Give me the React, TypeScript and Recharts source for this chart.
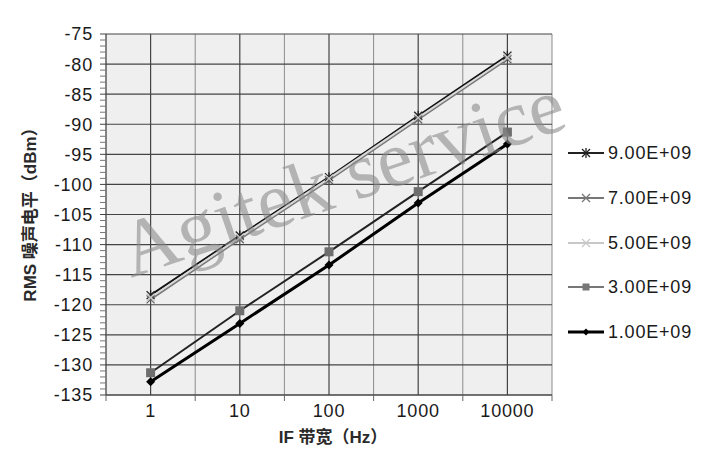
import React from "react";
import { CartesianGrid, Line, LineChart, XAxis, YAxis } from "recharts";

// IF bandwidth (Hz), evenly spaced categories
const bandwidths = ["1", "10", "100", "1000", "10000"];

// RMS noise level (dBm) per frequency
const noise9e9 = [-118.4, -108.5, -98.8, -88.6, -78.6];
const noise7e9 = [-119.1, -109.1, -99.3, -89.2, -79.2];
const noise5e9 = [-118.8, -108.8, -99.0, -88.9, -78.9];
const noise3e9 = [-131.3, -121.0, -111.2, -101.2, -91.3];
const noise1e9 = [-132.8, -123.1, -113.4, -103.1, -93.3];

const seriesNames = ["9.00E+09", "7.00E+09", "5.00E+09", "3.00E+09", "1.00E+09"];

const yMajorTicks = [-135, -130, -125, -120, -115, -110, -105, -100, -95, -90, -85, -80, -75];
const yMinorTicks: number[] = [];
for (let v = -135; v <= -75; v++) yMinorTicks.push(v);

const xCenters = [0, 1, 2, 3, 4];
const xEdges = [-0.5, 0.5, 1.5, 2.5, 3.5, 4.5];
const xAllTicks = [-0.5, 0, 0.5, 1, 1.5, 2, 2.5, 3, 3.5, 4, 4.5];

const data = bandwidths.map((bw, i) => ({
  idx: i,
  bw,
  s9: noise9e9[i],
  s7: noise7e9[i],
  s5: noise5e9[i],
  s3: noise3e9[i],
  s1: noise1e9[i],
}));

const FONT = "'Liberation Sans', Arial, 'Noto Sans CJK SC', sans-serif";

type Shape = "star" | "cross" | "square" | "diamond";

function Marker({ shape, cx, cy, color, r }: { shape: Shape; cx: number; cy: number; color: string; r: number }) {
  if (shape === "square") {
    return <rect x={cx - r} y={cy - r} width={r * 2} height={r * 2} fill={color} />;
  }
  if (shape === "diamond") {
    return (
      <polygon
        points={`${cx},${cy - r} ${cx + r},${cy} ${cx},${cy + r} ${cx - r},${cy}`}
        fill={color}
      />
    );
  }
  return (
    <g stroke={color} strokeWidth={1.3}>
      <line x1={cx - r} y1={cy - r} x2={cx + r} y2={cy + r} />
      <line x1={cx - r} y1={cy + r} x2={cx + r} y2={cy - r} />
      {shape === "star" && <line x1={cx} y1={cy - r - 1} x2={cx} y2={cy + r + 1} />}
    </g>
  );
}

const seriesCfg = [
  { key: "s9", name: seriesNames[0], line: "#111", marker: "#222", legend: "#222", width: 2, shape: "star" as Shape, r: 4 },
  { key: "s7", name: seriesNames[1], line: "#7a7a7a", marker: "#666", legend: "#777", width: 2, shape: "cross" as Shape, r: 4 },
  { key: "s5", name: seriesNames[2], line: "#d8d8d8", marker: "#c8c8c8", legend: "#c8c8c8", width: 2, shape: "cross" as Shape, r: 4 },
  { key: "s3", name: seriesNames[3], line: "#222", marker: "#6e6e6e", legend: "#777", width: 2, shape: "square" as Shape, r: 4.5 },
  { key: "s1", name: seriesNames[4], line: "#000", marker: "#000", legend: "#000", width: 3, shape: "diamond" as Shape, r: 4.5 },
];

const makeDot = (shape: Shape, color: string, r: number) => (props: any) => {
  const { cx, cy, index } = props;
  return (
    <g key={`d-${shape}-${color}-${index}`}>
      <Marker shape={shape} cx={cx} cy={cy} color={color} r={r} />
    </g>
  );
};

const XTick = (props: any) => {
  const { x, y, payload } = props;
  const v = payload.value as number;
  if (Number.isInteger(v)) {
    return (
      <text x={x} y={y + 22} textAnchor="middle" fontSize={18} letterSpacing={0.8} fill="#1a1a1a" fontFamily={FONT}>
        {bandwidths[v]}
      </text>
    );
  }
  return <line x1={x} x2={x} y1={y} y2={y + 6} stroke="#666" />;
};

const YTick = (props: any) => {
  const { x, y, payload } = props;
  const v = payload.value as number;
  const major = v % 5 === 0;
  return (
    <g>
      <line x1={x - 6} x2={x} y1={y} y2={y} stroke={major ? "#444" : "#777"} />
      {major && (
        <text x={x - 13} y={y} dy="0.36em" textAnchor="end" fontSize={18} letterSpacing={0.8} fill="#1a1a1a" fontFamily={FONT}>
          {v}
        </text>
      )}
    </g>
  );
};

const LegendBox = () => (
  <div style={{ position: "absolute", left: 566, top: 131, width: 154, fontFamily: FONT }}>
    {seriesCfg.map((s) => (
      <div key={s.key} style={{ height: 44.7, display: "flex", alignItems: "center" }}>
        <svg width={42} height={20} style={{ display: "block" }}>
          <line x1={2} x2={38} y1={10} y2={10} stroke={s.legend} strokeWidth={s.width} />
          <Marker shape={s.shape} cx={20} cy={10} color={s.legend} r={s.shape === "square" || s.shape === "diamond" ? 3.5 : 4} />
        </svg>
        <span style={{ fontSize: 18, letterSpacing: 0.8, color: "#1a1a1a", lineHeight: "20px" }}>{s.name}</span>
      </div>
    ))}
  </div>
);

export default function App() {
  return (
    <div style={{ position: "relative", width: 720, height: 461, background: "#fff" }}>
      <style>{"body{margin:0}"}</style>
      <LineChart width={720} height={461} data={data} margin={{ top: 34, right: 168, bottom: 26, left: 0 }}>
        <CartesianGrid
          fill="#efefef"
          stroke="#8c8c8c"
          horizontal={false}
          verticalValues={xEdges}
          syncWithTicks
        />
        <CartesianGrid
          stroke="#444"
          strokeWidth={1.2}
          horizontalValues={yMajorTicks}
          verticalValues={xCenters}
          syncWithTicks
        />
        <XAxis
          type="number"
          dataKey="idx"
          domain={[-0.5, 4.5]}
          ticks={xAllTicks}
          interval={0}
          tick={<XTick />}
          tickLine={false}
          tickSize={0}
          tickMargin={0}
          height={40}
          stroke="#444"
          allowDecimals
          label={{
            content: (p: any) => {
              const vb = p.viewBox;
              return (
                <text
                  x={vb.x + vb.width / 2 + 4}
                  y={vb.y + 48}
                  textAnchor="middle"
                  fontSize={17}
                  fontWeight="bold"
                  fill="#2a2a2a"
                  fontFamily={FONT}
                >
                  IF 带宽（Hz）
                </text>
              );
            },
          }}
        />
        <YAxis
          type="number"
          domain={[-135, -75]}
          ticks={yMinorTicks}
          interval={0}
          tick={<YTick />}
          tickLine={false}
          tickSize={0}
          tickMargin={0}
          width={106}
          stroke="#444"
          label={{
            content: (p: any) => {
              const vb = p.viewBox;
              const cx = vb.x + 30;
              const cy = vb.y + vb.height / 2 - 4;
              return (
                <text
                  x={cx}
                  y={cy}
                  dy="0.36em"
                  transform={`rotate(-90 ${cx} ${cy})`}
                  textAnchor="middle"
                  fontSize={17}
                  fontWeight="bold"
                  fill="#2a2a2a"
                  fontFamily={FONT}
                >
                  RMS 噪声电平（dBm）
                </text>
              );
            },
          }}
        />
        {seriesCfg.map((s) => (
          <Line
            key={s.key}
            dataKey={s.key}
            name={s.name}
            stroke={s.line}
            strokeWidth={s.width}
            dot={makeDot(s.shape, s.marker, s.r)}
            activeDot={false}
            isAnimationActive={false}
          />
        ))}
      </LineChart>
      <LegendBox />
      <svg
        width={720}
        height={461}
        style={{ position: "absolute", left: 0, top: 0, pointerEvents: "none" }}
      >
        <text
          x={131}
          y={278}
          transform="rotate(-19 131 278)"
          fontSize={80}
          fontFamily="'Liberation Serif', 'DejaVu Serif', serif"
          fill="#8a8a8a"
          fillOpacity={0.6}
        >
          Agitek service
        </text>
      </svg>
    </div>
  );
}
